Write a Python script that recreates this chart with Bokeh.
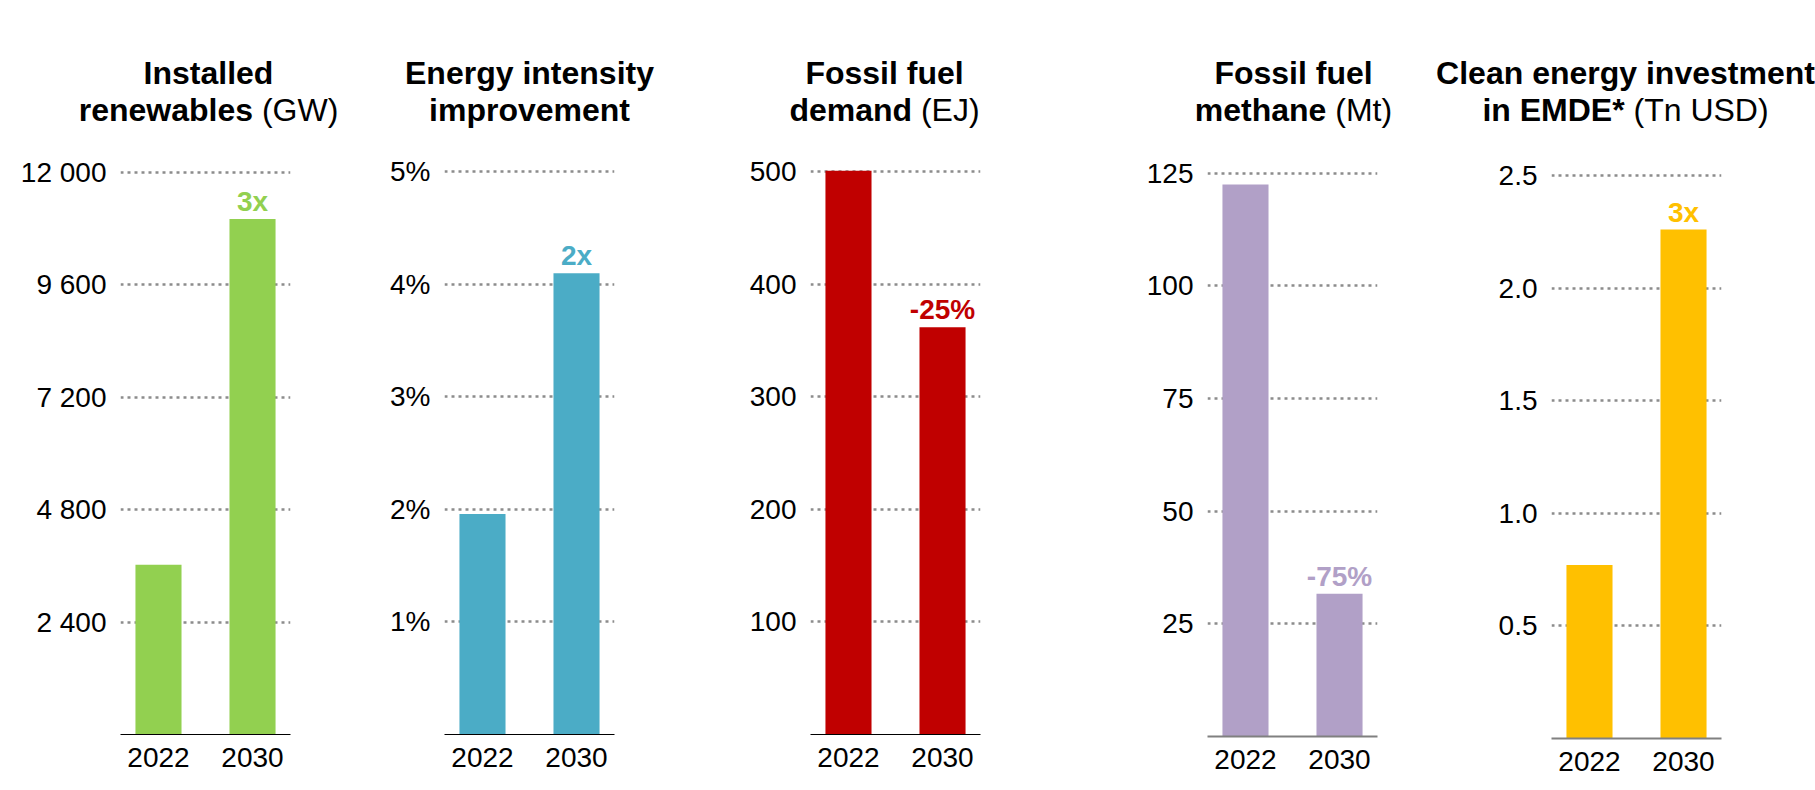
from bokeh.plotting import figure
from bokeh.models import FactorRange, Range1d, FixedTicker, Label, LabelSet, ColumnDataSource
from bokeh.layouts import row, column
from bokeh.core.properties import value
from bokeh.embed import file_html
from bokeh.resources import INLINE

# ---------------- data ----------------
years = ["2022", "2030"]

renewables_gw = [3620, 11000]
intensity_pct = [1.96, 4.1]
fossil_demand_ej = [501, 362]
methane_mt = [122.5, 31.7]
clean_invest_tn_usd = [0.77, 2.26]

change_labels = ["3x", "2x", "-25%", "-75%", "3x"]

renew_ticks = [2400, 4800, 7200, 9600, 12000]
renew_tick_labels = ["2 400", "4 800", "7 200", "9 600", "12 000"]
intensity_ticks = [1, 2, 3, 4, 5]
intensity_tick_labels = ["1%", "2%", "3%", "4%", "5%"]
demand_ticks = [100, 200, 300, 400, 500]
demand_tick_labels = ["100", "200", "300", "400", "500"]
methane_ticks = [25, 50, 75, 100, 125]
methane_tick_labels = ["25", "50", "75", "100", "125"]
invest_ticks = [0.5, 1.0, 1.5, 2.0, 2.5]
invest_tick_labels = ["0.5", "1.0", "1.5", "2.0", "2.5"]

title_line1 = ["Installed", "Energy intensity", "Fossil fuel", "Fossil fuel", "Clean energy investment"]
title_line2_bold = ["renewables", "improvement", "demand", "methane", "in EMDE*"]
title_line2_unit = ["(GW)", "", "(EJ)", "(Mt)", "(Tn USD)"]

colors = ["#92D050", "#4BACC6", "#C00000", "#B1A0C7", "#FFC000"]

# ---------------- styling / layout ----------------
FONT = "Liberation Sans"
TITLE_SIZE = 32
PAGE_W = 1815
TITLE_H = 140          # height of the title strip
FRAME_TOP = 150        # page y of plot frame tops
PAGE_H = 785
FW = 170
LINE1_MID = 72         # page y of the middle of title line 1
LINE2_MID = 109.5      # page y of the middle of title line 2

ARIAL_BOLD = {" ": 278, "a": 556, "b": 611, "c": 556, "d": 611, "e": 556, "f": 333, "g": 611,
              "h": 611, "i": 278, "l": 278, "m": 889, "n": 611, "o": 611, "p": 611, "r": 389,
              "s": 556, "t": 333, "u": 611, "v": 556, "w": 778, "y": 556, "I": 278, "E": 667,
              "C": 722, "F": 611, "M": 833, "D": 722, "*": 389}
ARIAL_REG = {" ": 278, "(": 333, ")": 333, "G": 778, "W": 944, "E": 667, "J": 500, "M": 833,
             "t": 278, "T": 611, "n": 556, "U": 722, "S": 667, "D": 722}


def tw(s, table, size):
    return sum(table.get(c, 556) for c in s) * size / 1000.0


# (min_border_left, min_border_right, frame_bottom, y_end, title_dx, axis_color, axis_width)
layouts = [
    (120, 80, 734, 12459, 3, "#000000", 1),
    (74, 106, 734, 5.191, 0, "#000000", 1),
    (90, 110, 734, 519.1, -11, "#000000", 1),
    (117, 38, 736, 130.05, 1, "#808080", 1.8),
    (136, 94, 738, 2.611, -11, "#808080", 1.8),
]

panels = [
    (renewables_gw, renew_ticks, renew_tick_labels),
    (intensity_pct, intensity_ticks, intensity_tick_labels),
    (fossil_demand_ej, demand_ticks, demand_tick_labels),
    (methane_mt, methane_ticks, methane_tick_labels),
    (clean_invest_tn_usd, invest_ticks, invest_tick_labels),
]


def make_panel(i):
    vals, ticks, tick_labels = panels[i]
    L, R, fb, yend, tdx, acol, aw = layouts[i]
    fh = fb - FRAME_TOP
    p = figure(frame_width=FW, frame_height=fh,
               min_border_left=L, min_border_right=R,
               min_border_top=FRAME_TOP - TITLE_H, min_border_bottom=PAGE_H - fb,
               x_range=FactorRange(factors=years, range_padding=-0.096),
               y_range=Range1d(0, yend),
               output_backend="svg", toolbar_location=None, tools="")
    p.background_fill_color = "white"
    p.border_fill_color = "white"
    p.outline_line_color = None

    src = ColumnDataSource(dict(year=years, val=vals, label=["", change_labels[i]]))
    p.vbar(x="year", top="val", width=0.49, source=src, fill_color=colors[i], line_color=None)

    p.add_layout(LabelSet(x="year", y="val", text="label", source=src, y_offset=8,
                          text_align="center", text_baseline="alphabetic",
                          text_color=colors[i], text_font=value(FONT),
                          text_font_style="bold", text_font_size="28px"))

    # y axis + grid
    p.yaxis.ticker = FixedTicker(ticks=ticks, minor_ticks=[])
    p.yaxis.major_label_overrides = {t: s for t, s in zip(ticks, tick_labels)}
    p.yaxis.axis_line_color = None
    p.yaxis.major_tick_line_color = None
    p.yaxis.major_tick_out = 0
    p.yaxis.major_tick_in = 0
    p.yaxis.minor_tick_line_color = None
    p.yaxis.major_label_text_font = FONT
    p.yaxis.major_label_text_font_size = "28px"
    p.yaxis.major_label_text_color = "black"
    p.yaxis.major_label_standoff = 14

    p.ygrid.ticker = FixedTicker(ticks=ticks, minor_ticks=[])
    p.ygrid.grid_line_color = "#8c8c8c"
    p.ygrid.grid_line_dash = "3 4"
    p.ygrid.grid_line_width = 2.5
    p.xgrid.visible = False

    # x axis
    p.xaxis.axis_line_color = acol
    p.xaxis.axis_line_width = aw
    p.xaxis.major_tick_line_color = None
    p.xaxis.major_tick_out = 0
    p.xaxis.major_tick_in = 0
    p.xaxis.minor_tick_line_color = None
    p.xaxis.major_label_text_font = FONT
    p.xaxis.major_label_text_font_size = "28px"
    p.xaxis.major_label_text_color = "black"
    p.xaxis.major_label_standoff = 13
    return p


figs = [make_panel(i) for i in range(5)]

# ---------------- title strip (one figure spanning the page width) ----------------
tfig = figure(width=PAGE_W, height=TITLE_H, x_range=Range1d(0, PAGE_W), y_range=Range1d(0, TITLE_H),
              min_border=0, x_axis_location=None, y_axis_location=None,
              output_backend="svg", toolbar_location=None, tools="")
tfig.outline_line_color = None
tfig.grid.visible = False
tfig.background_fill_color = "white"
tfig.border_fill_color = "white"

left = 0
for i in range(5):
    L, R, fb, yend, tdx, acol, aw = layouts[i]
    cx = left + L + FW / 2 + tdx
    left += L + FW + R
    y1 = TITLE_H - LINE1_MID
    y2 = TITLE_H - LINE2_MID
    tfig.add_layout(Label(x=cx, y=y1, x_units="screen", y_units="screen", text=title_line1[i],
                          text_align="center", text_baseline="middle", text_font=FONT,
                          text_font_style="bold", text_font_size=f"{TITLE_SIZE}px",
                          text_color="black"))
    bold = title_line2_bold[i]
    unit = title_line2_unit[i]
    wb = tw(bold, ARIAL_BOLD, TITLE_SIZE)
    ws = tw(" ", ARIAL_REG, TITLE_SIZE) if unit else 0
    wu = tw(unit, ARIAL_REG, TITLE_SIZE) if unit else 0
    x0 = cx - (wb + ws + wu) / 2
    tfig.add_layout(Label(x=x0, y=y2, x_units="screen", y_units="screen", text=bold,
                          text_align="left", text_baseline="middle", text_font=FONT,
                          text_font_style="bold", text_font_size=f"{TITLE_SIZE}px",
                          text_color="black"))
    if unit:
        tfig.add_layout(Label(x=x0 + wb + ws, y=y2, x_units="screen", y_units="screen", text=unit,
                              text_align="left", text_baseline="middle", text_font=FONT,
                              text_font_style="normal", text_font_size=f"{TITLE_SIZE}px",
                              text_color="black"))

layout = column(tfig, row(*figs, spacing=0), spacing=0)

open("out.html", "w").write(file_html(layout, INLINE))
